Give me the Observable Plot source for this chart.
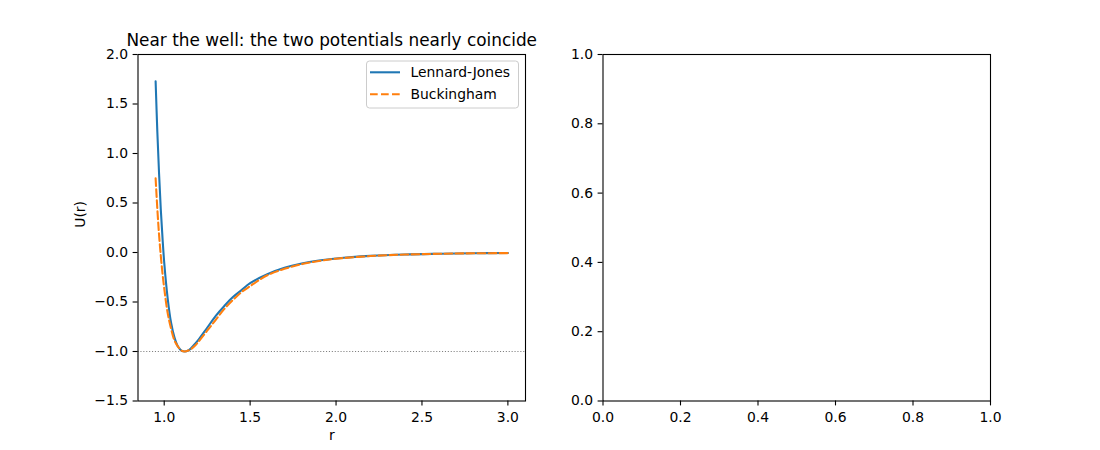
<!DOCTYPE html>
<html>
<head>
<meta charset="utf-8">
<script src="https://cdn.jsdelivr.net/npm/d3@7"></script>
<script src="https://cdn.jsdelivr.net/npm/@observablehq/plot@0.6"></script>
<style>
  html, body { margin: 0; padding: 0; background: #ffffff; }
  #wrap { position: relative; width: 1100px; height: 450px; background: #ffffff; font-family: "DejaVu Sans", sans-serif; }
  #wrap svg { position: absolute; top: 0; }
</style>
</head>
<body>
<div id="wrap"></div>
<script>
// ---------------- data ----------------
const rValues = [0.95, 0.96, 0.97, 0.98, 0.99, 1.00, 1.02, 1.04, 1.06, 1.08, 1.10, 1.12, 1.14, 1.16, 1.18, 1.20,
                 1.25, 1.30, 1.35, 1.40, 1.45, 1.50, 1.60, 1.70, 1.80, 1.90, 2.00, 2.20, 2.40, 2.60, 2.80, 3.00];
const ljValues = [1.73, 1.22, 0.80, 0.44, 0.15, -0.10, -0.46, -0.71, -0.86, -0.95, -0.99, -1.00, -0.99, -0.96, -0.92, -0.88,
                  -0.76, -0.64, -0.54, -0.45, -0.38, -0.31, -0.22, -0.155, -0.111, -0.081, -0.060, -0.034, -0.020, -0.013, -0.008, -0.005];
const buckValues = [0.75, 0.44, 0.18, -0.03, -0.21, -0.36, -0.61, -0.77, -0.89, -0.95, -0.99, -1.00, -0.99, -0.97, -0.94, -0.90,
                    -0.79, -0.68, -0.57, -0.48, -0.40, -0.34, -0.23, -0.165, -0.118, -0.086, -0.063, -0.036, -0.021, -0.013, -0.008, -0.006];
const seriesNames = ["Lennard-Jones", "Buckingham"];
const wellDepth = [-1];
const leftXTicks = [1.0, 1.5, 2.0, 2.5, 3.0];
const leftYTicks = [-1.5, -1.0, -0.5, 0.0, 0.5, 1.0, 1.5, 2.0];
const rightTicks = [0.0, 0.2, 0.4, 0.6, 0.8, 1.0];
const titleText = "Near the well: the two potentials nearly coincide";
const xLabelText = "r";
const yLabelText = "U(r)";

// ---------------- styles ----------------
const BLUE = "#1f77b4", ORANGE = "#ff7f0e";
const FONT = '"DejaVu Sans", sans-serif';
const FS = 13.9;
const fmt = d3.format(".1f");

const ljRows = rValues.map((r, i) => ({r, U: ljValues[i]}));
const bkRows = rValues.map((r, i) => ({r, U: buckValues[i]}));

const wrap = document.getElementById("wrap");

const common = {
  width: 550, height: 450, marginTop: 54, marginBottom: 49.5,
  style: {fontFamily: FONT, fontSize: FS + "px", background: "transparent", color: "black", overflow: "visible"}
};

const left = Plot.plot({
  ...common,
  marginLeft: 137.5, marginRight: 25,
  x: {domain: [0.8475, 3.1025]},
  y: {domain: [-1.5, 2.0]},
  marks: [
    Plot.ruleY(wellDepth, {stroke: "#808080", strokeWidth: 1.1, strokeDasharray: "1.1,1.8"}),
    Plot.line(ljRows, {x: "r", y: "U", stroke: BLUE, strokeWidth: 2.08, curve: "catmull-rom"}),
    Plot.line(bkRows, {x: "r", y: "U", stroke: ORANGE, strokeWidth: 2.08, strokeDasharray: "7.7,3.3", curve: "catmull-rom"}),
    Plot.frame({stroke: "black", strokeWidth: 1.1}),
    Plot.axisX({ticks: leftXTicks, tickFormat: fmt, tickSize: 4.9, tickPadding: 6, strokeWidth: 1.1, label: null, fontSize: FS}),
    Plot.axisY({ticks: leftYTicks, tickFormat: fmt, tickSize: 4.9, tickPadding: 5, strokeWidth: 1.1, label: null, fontSize: FS}),
    Plot.text([titleText], {text: d => d, frameAnchor: "top", dy: -8.3, lineAnchor: "bottom", fontSize: 16.9}),
    Plot.text([xLabelText], {text: d => d, frameAnchor: "bottom", dy: 38.5, lineAnchor: "bottom", fontSize: FS}),
    Plot.text([yLabelText], {text: d => d, frameAnchor: "left", dx: -57, rotate: -90, fontSize: FS})
  ]
});
left.style.left = "0px";
wrap.appendChild(left);

const right = Plot.plot({
  ...common,
  marginLeft: 52.5, marginRight: 110,
  x: {domain: [0, 1]},
  y: {domain: [0, 1]},
  marks: [
    Plot.frame({stroke: "black", strokeWidth: 1.1}),
    Plot.axisX({ticks: rightTicks, tickFormat: fmt, tickSize: 4.9, tickPadding: 6, strokeWidth: 1.1, label: null, fontSize: FS}),
    Plot.axisY({ticks: rightTicks, tickFormat: fmt, tickSize: 4.9, tickPadding: 5, strokeWidth: 1.1, label: null, fontSize: FS})
  ]
});
right.style.left = "550px";
wrap.appendChild(right);

// ---------------- legend (upper right of left axes) ----------------
const legend = d3.select(wrap).append("svg")
  .attr("width", 1100).attr("height", 450)
  .style("left", "0px").style("pointer-events", "none")
  .style("font-family", FONT).style("font-size", FS + "px");
legend.append("rect")
  .attr("x", 366.5).attr("y", 61).attr("width", 152).attr("height", 47)
  .attr("rx", 3).attr("ry", 3)
  .attr("fill", "white").attr("fill-opacity", 0.8)
  .attr("stroke", "#cccccc").attr("stroke-width", 1);
const legendColors = [BLUE, ORANGE];
const legendDash = [null, "7.7,3.3"];
seriesNames.forEach((name, i) => {
  const y = 72.3 + i * 22;
  legend.append("line")
    .attr("x1", 370).attr("x2", 400).attr("y1", y).attr("y2", y)
    .attr("stroke", legendColors[i]).attr("stroke-width", 2.08)
    .attr("stroke-dasharray", legendDash[i]);
  legend.append("text")
    .attr("x", 410.5).attr("y", y + 5).attr("fill", "black")
    .text(name);
});
</script>
</body>
</html>
